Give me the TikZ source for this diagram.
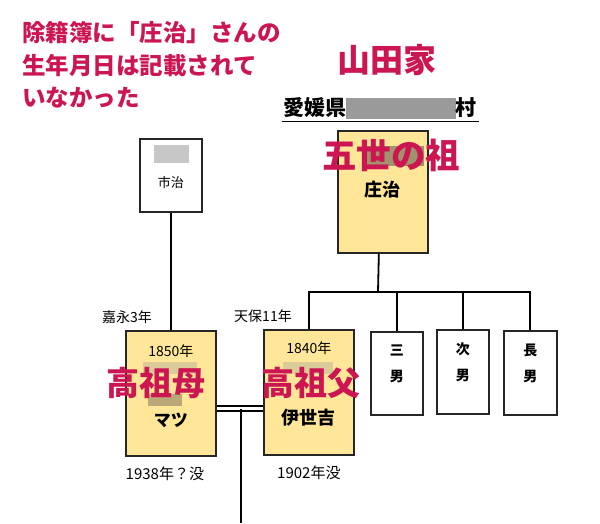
\documentclass[tikz,border=0pt]{standalone}
\usepackage{fontspec}
\setmainfont{Noto Sans CJK JP}
\usetikzlibrary{positioning}
\definecolor{notered}{HTML}{CC1652}
\definecolor{ancestoryellow}{HTML}{FFE699}
\definecolor{blurgray}{HTML}{9A9A9A}
\definecolor{blurbrown}{HTML}{8C7F63}

\begin{document}
\begin{tikzpicture}[
  x=1pt, y=-1pt,
  line width=1.8pt,
  person/.style={rectangle, draw=black!85, line width=1.7pt, fill=white, anchor=north west, inner sep=0pt},
  ancestor/.style={person, fill=ancestoryellow},
  datetext/.style={font=\fontsize{14}{16}\selectfont},
  namelabel/.style={font=\bfseries\fontsize{17}{20}\selectfont},
  sonlabel/.style={align=center, font=\bfseries\fontsize{14}{26}\selectfont},
  redlabel/.style={text=notered, font=\bfseries\fontsize{33}{36}\selectfont},
  blurpatch/.style={fill=blurgray, opacity=0.55, draw=none}
]
  \useasboundingbox (0,0) rectangle (600,523);

  % note and family name
  \node[anchor=west, align=left, text=notered, font=\bfseries\fontsize{23.5}{32.5}\selectfont] (memo) at (18,65)
    {除籍簿に「庄治」さんの\\生年月日は記載されて\\いなかった};
  \node[redlabel] (family) at (387,60) {山田家};
  \node[font=\bfseries\fontsize{21}{23}\selectfont, inner sep=1pt] (village) at (380,108)
    {愛媛県\textcolor{blurgray}{\rule[-0.15em]{5.2em}{1em}}村};
  \draw[line width=1.3pt] ([yshift=-1pt]village.south west) -- ([yshift=-1pt]village.south east);

  % boxes
  \node[person, minimum width=62pt, minimum height=73pt] (ichiji) at (139,138) {};
  \node[ancestor, minimum width=90pt, minimum height=122pt] (shoji) at (337,130) {};
  \node[ancestor, minimum width=90pt, minimum height=125pt] (matsu) at (125,330) {};
  \node[ancestor, minimum width=90pt, minimum height=125pt] (iseki) at (263,329) {};
  \node[person, minimum width=52pt, minimum height=83pt] (san) at (370,331) {};
  \node[person, minimum width=52pt, minimum height=84pt] (ji) at (436,329) {};
  \node[person, minimum width=53pt, minimum height=84pt] (cho) at (503,330) {};

  % blurred parts
  \fill[blurpatch] (154,145) rectangle (189,163);
  \fill[blurbrown, opacity=0.8] (362,146) rectangle (424,166);
  \fill[blurpatch, opacity=0.35] (143,362) rectangle (197,374);
  \fill[blurbrown, opacity=0.6] (148,394) rectangle (182,406);
  \fill[blurpatch, opacity=0.35] (283,362) rectangle (333,374);

  % texts in boxes
  \node[font=\fontsize{13}{15}\selectfont] (ichijiname) at ([yshift=-45pt]ichiji.north) {市治};
  \node[font=\bfseries\fontsize{18}{20}\selectfont] (shojiname) at ([yshift=-60pt]shoji.north) {庄治};
  \node[redlabel, font=\bfseries\fontsize{34.5}{36}\selectfont] (gosei) at (391,155) {五世の祖};
  \node[datetext] (matsuborn) at ([yshift=-21pt]matsu.north) {1850年};
  \node[datetext] (isekiborn) at ([yshift=-19pt]iseki.north) {1840年};
  \node[redlabel] (sosobo) at (156,383) {高祖母};
  \node[redlabel] (sosofu) at (311,383) {高祖父};
  \node[namelabel] (matsuname) at ([yshift=-90pt]matsu.north) {マツ};
  \node[font=\bfseries\fontsize{18}{20}\selectfont] (isekiname) at ([yshift=-89pt]iseki.north) {伊世吉};
  \node[sonlabel] (sanname) at ([yshift=-33pt]san.north) {三\\男};
  \node[sonlabel] (jiname) at ([yshift=-33pt]ji.north) {次\\男};
  \node[sonlabel] (choname) at ([yshift=-33pt]cho.north) {長\\男};

  % dates outside
  \node[datetext, above=2pt of matsu.north west, xshift=2pt] (kaei) {嘉永3年};
  \node[datetext, above=2pt of iseki.north west] (tempo) {天保11年};
  \node[font=\fontsize{15}{17}\selectfont, below=6pt of matsu.south, xshift=-6pt] (matsudied) {1938年？没};
  \node[font=\fontsize{15}{17}\selectfont, below=6pt of iseki.south] (isekidied) {1902年没};

  % connectors
  \coordinate (branch) at (378,292);
  \coordinate (marriage) at (241,409);
  \coordinate (descent) at (241,523);
  \draw (ichiji) -- (matsu);
  \draw ([xshift=-4pt]shoji.south) -- (branch);
  \draw (iseki.north) |- (branch -| cho.north) -- (cho.north);
  \draw (san.north) -- (san.north |- branch);
  \draw (ji.north) -- (ji.north |- branch);
  \draw[double, double distance=3.5pt, line width=1.5pt] ([yshift=-15pt]matsu.east) -- ([yshift=-15pt]matsu.east -| iseki.west);
  \draw (marriage) -- (descent);
\end{tikzpicture}
\end{document}
